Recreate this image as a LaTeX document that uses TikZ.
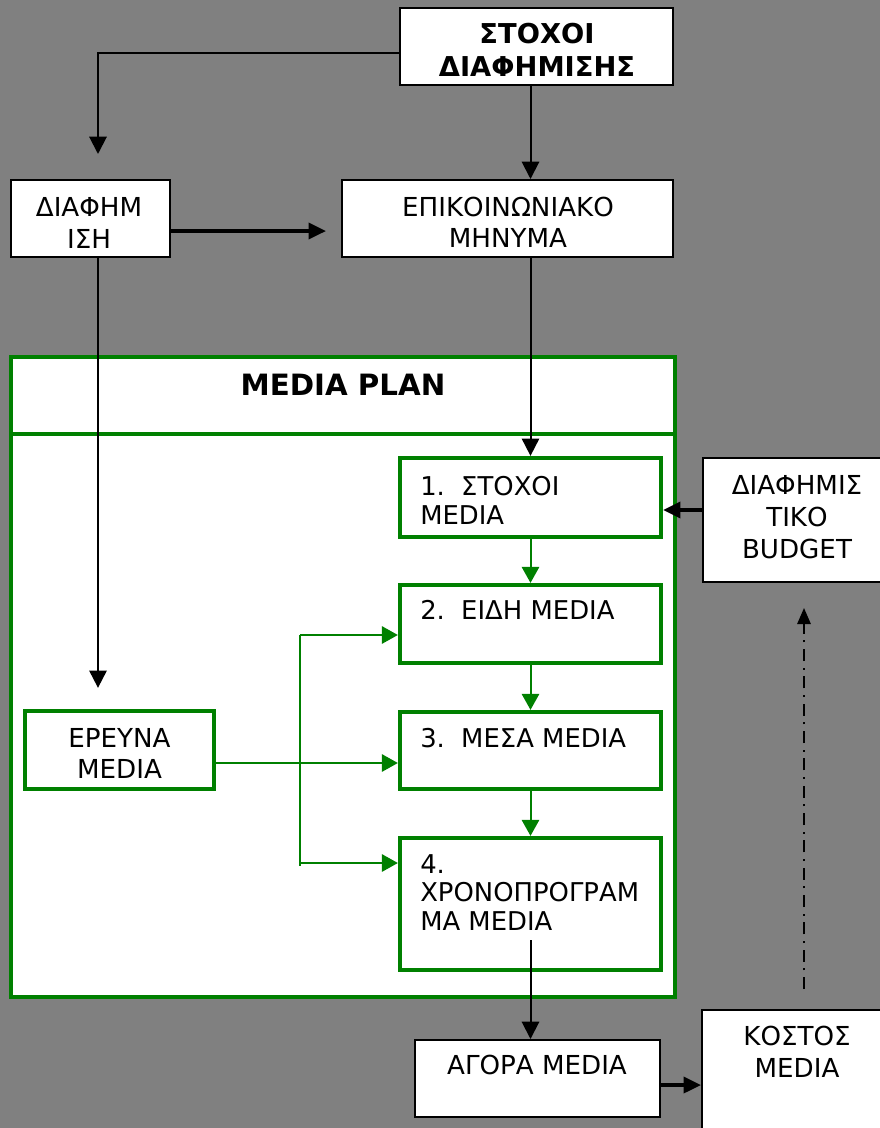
\documentclass[tikz,border=0pt]{standalone}
\usepackage{fontspec}
\setmainfont{DejaVu Sans}
\usetikzlibrary{arrows.meta}
\definecolor{bggray}{HTML}{808080}
\definecolor{mgreen}{HTML}{008000}
\def\PX{0.75pt}
\begin{document}
\begin{tikzpicture}[x=0.75pt,y=-0.75pt,
  sz/.style 2 args={minimum width=#1*0.75pt,minimum height=#2*0.75pt},
  box/.style={draw=black,line width=1.5pt,fill=white,inner sep=0pt},
  gbox/.style={draw=mgreen,line width=3.2pt,fill=white,inner sep=0pt},
  txt/.style={inner sep=0pt,align=center,font=\fontsize{19.6pt}{23.6pt}\selectfont},
  gtxt/.style={inner sep=0pt,align=left,anchor=north west,font=\fontsize{19.4pt}{21.4pt}\selectfont},
  bold/.style={inner sep=0pt,align=center,font=\bfseries\fontsize{20.5pt}{24.75pt}\selectfont},
  conn/.style={draw=black,line width=1.5pt,-{Triangle[length=13pt,width=13pt]}},
  thick conn/.style={draw=black,line width=2.6pt,-{Triangle[length=13pt,width=12pt]}},
  gconn/.style={draw=mgreen,line width=1.5pt,-{Triangle[length=12pt,width=13pt]}},
  gline/.style={draw=mgreen,line width=1.5pt},
  dashdot/.style={draw=black,line width=1.4pt,dash pattern=on 9pt off 5pt on 1.5pt off 5pt,-{Triangle[length=12pt,width=10pt]}}
]
\useasboundingbox (0,0) rectangle (880,1128);
\fill[bggray] (0,0) rectangle (880,1128);
\clip (0,0) rectangle (880,1128);

% top boxes
\node[box,sz={273}{77}] (stoxoi) at (536.5,46.5) {};
\node[bold] (tstoxoi) at (537,49.5) {ΣΤΟΧΟΙ\\ΔΙΑΦΗΜΙΣΗΣ};
\node[box,sz={159}{77}] (diafim) at (90.5,218.5) {};
\node[txt] (tdiafim) at (89,223) {ΔΙΑΦΗΜ\\ΙΣΗ};
\node[box,sz={331}{77}] (epik) at (507.5,218.5) {};
\node[txt] (tepik) at (508,222.5) {ΕΠΙΚΟΙΝΩΝΙΑΚΟ\\ΜΗΝΥΜΑ};

% media plan frame
\node[gbox,sz={664}{563}] (mpbody) at (343,715.5) {};
\node[gbox,sz={664}{77}] (mphead) at (343,395.5) {};
\node[bold,font=\bfseries\fontsize{22pt}{26pt}\selectfont] (tmp) at (343,385) {MEDIA PLAN};

% steps
\node[gbox,sz={261}{79}] (b1) at (530.5,497.5) {};
\node[gtxt] (tb1) at (420,476) {\makebox[30.75pt][l]{1.}ΣΤΟΧΟΙ\\MEDIA};
\node[gbox,sz={261}{78}] (b2) at (530.5,624) {};
\node[gtxt] (tb2) at (420,600) {\makebox[30.75pt][l]{2.}ΕΙΔΗ MEDIA};
\node[gbox,sz={261}{77}] (b3) at (530.5,750.5) {};
\node[gtxt] (tb3) at (420,728) {\makebox[30.75pt][l]{3.}ΜΕΣΑ MEDIA};
\node[gbox,sz={261}{132}] (b4) at (530.5,904) {};
\node[gtxt] (tb4) at (420,854) {4.\\ΧΡΟΝΟΠΡΟΓΡΑΜ\\ΜΑ MEDIA};

\node[gbox,sz={189}{78}] (ereuna) at (119.5,750) {};
\node[txt,font=\fontsize{19.6pt}{23pt}\selectfont] (tereuna) at (119.5,753.5) {ΕΡΕΥΝΑ\\MEDIA};

% right and bottom boxes
\node[box,sz={188}{124}] (budget) at (797,520) {};
\node[txt,font=\fontsize{19.6pt}{24pt}\selectfont] (tbudget) at (797,517) {ΔΙΑΦΗΜΙΣ\\ΤΙΚΟ\\BUDGET};
\node[box,sz={245}{77}] (agora) at (537.5,1078.5) {};
\node[txt] (tagora) at (537,1065) {ΑΓΟΡΑ MEDIA};
\node[box,sz={190}{150}] (kostos) at (797,1085) {};
\node[txt,font=\fontsize{19.6pt}{24pt}\selectfont] (tkostos) at (797,1052) {ΚΟΣΤΟΣ\\MEDIA};

% black connectors
\coordinate (s1) at ([yshift=-6.5*\PX]stoxoi.west);
\coordinate (d0) at ([xshift=7.5*\PX,yshift=25*\PX]diafim.north);
\draw[conn] (s1) -| (d0);
\draw[conn] (stoxoi.south -| b1.north) -- (epik.north -| b1.north);
\coordinate (d2) at ([yshift=-12.5*\PX]diafim.east);
\coordinate (e2) at ([xshift=-15*\PX]epik.west);
\draw[thick conn] (d2) -- (d2 -| e2);
\coordinate (d1) at ([xshift=7.5*\PX]diafim.south);
\coordinate (e1) at ([yshift=21*\PX]ereuna.north);
\draw[conn] (d1) -- (d1 |- e1);
\draw[conn] (epik.south -| b1.north) -- (b1.north);
\coordinate (bu) at ([yshift=10*\PX]budget.west);
\draw[thick conn] (bu) -- (bu -| b1.east);
\coordinate (b4s) at ([yshift=-36*\PX]b4.center);
\draw[conn] (b4s) -- (agora.north -| b4s);
\coordinate (ag) at ([yshift=-6.5*\PX]agora.east);
\draw[thick conn] (ag) -- (ag -| kostos.west);
\coordinate (k1) at ([xshift=7*\PX,yshift=20*\PX]kostos.north);
\coordinate (k2) at ([xshift=7*\PX,yshift=-25*\PX]budget.south);
\draw[dashdot] (k1) -- (k2);

% green connectors
\draw[gconn] (b1.south) -- (b2.north);
\draw[gconn] (b2.south) -- (b3.north);
\draw[gconn] (b3.south) -- (b4.north);
\coordinate (v1) at (300,635);
\coordinate (v2) at (300,866);
\coordinate (v3) at (300,863);
\coordinate (er) at ([yshift=-13*\PX]ereuna.east);
\draw[gline] (v1) -- (v2);
\draw[gconn] (er) -- (er -| b3.west);
\draw[gconn] (v1) -- (v1 -| b2.west);
\draw[gconn] (v3) -- (v3 -| b4.west);
\end{tikzpicture}
\end{document}
